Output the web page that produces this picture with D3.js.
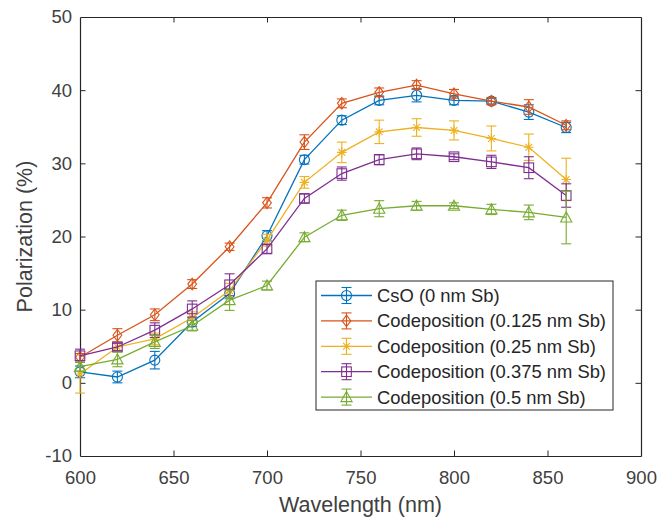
<!DOCTYPE html>
<html>
<head>
<meta charset="utf-8">
<script src="https://cdn.jsdelivr.net/npm/d3@7"></script>
<style>
  html, body { margin: 0; padding: 0; background: #fff; }
  svg { display: block; font-family: "Liberation Sans", Arial, Helvetica, sans-serif; }
</style>
</head>
<body>
<svg id="chart" width="659" height="521"></svg>
<script>
// Wavelengths (nm)
const wavelengths = [600, 620, 640, 660, 680, 700, 720, 740, 760, 780, 800, 820, 840, 860];

// Polarization (%) per sample, with error bar half-widths
const cso      = [1.5, 0.8, 3.1, 8.3, 12.2, 20.1, 30.5, 35.9, 38.6, 39.3, 38.6, 38.5, 37.0, 34.9];
const csoErr   = [0.8, 0.8, 1.2, 0.6, 0.7, 0.7, 0.6, 0.6, 0.6, 0.9, 0.6, 0.4, 1.0, 0.7];
const co0125   = [3.5, 6.5, 9.3, 13.5, 18.6, 24.6, 32.9, 38.2, 39.7, 40.7, 39.5, 38.5, 37.7, 35.2];
const co0125Err= [0.5, 0.9, 0.8, 0.6, 0.5, 0.7, 1.0, 0.6, 0.6, 0.6, 0.6, 0.5, 1.0, 0.6];
const co025    = [1.2, 4.9, 6.0, 8.9, 12.6, 19.5, 27.4, 31.5, 34.3, 34.9, 34.5, 33.4, 32.2, 27.8];
const co025Err = [2.6, 0.6, 0.8, 0.8, 1.0, 0.8, 0.8, 1.4, 1.6, 1.2, 1.3, 1.7, 1.8, 2.9];
const co0375   = [3.7, 4.9, 7.2, 10.1, 13.4, 18.3, 25.2, 28.6, 30.5, 31.3, 30.9, 30.2, 29.4, 25.6];
const co0375Err= [0.9, 0.5, 1.0, 1.1, 1.5, 0.6, 0.6, 0.9, 0.7, 0.8, 0.4, 0.9, 1.5, 1.6];
const co05     = [2.2, 3.2, 5.6, 7.8, 11.3, 13.3, 19.9, 22.9, 23.8, 24.2, 24.2, 23.7, 23.3, 22.6];
const co05Err  = [0.6, 1.0, 0.9, 0.7, 1.4, 0.6, 0.6, 0.7, 1.1, 0.6, 0.4, 0.7, 1.0, 3.6];

const seriesNames = [
  "CsO (0 nm Sb)",
  "Codeposition (0.125 nm Sb)",
  "Codeposition (0.25 nm Sb)",
  "Codeposition (0.375 nm Sb)",
  "Codeposition (0.5 nm Sb)"
];
const seriesColors = ["#0072BD", "#D95319", "#EDB120", "#7E2F8E", "#77AC30"];
const seriesMarkers = ["circle", "diamond", "asterisk", "square", "triangle"];

const xTicks = [600, 650, 700, 750, 800, 850, 900];
const yTicks = [-10, 0, 10, 20, 30, 40, 50];

const series = [
  { vals: cso, errs: csoErr },
  { vals: co0125, errs: co0125Err },
  { vals: co025, errs: co025Err },
  { vals: co0375, errs: co0375Err },
  { vals: co05, errs: co05Err }
].map((s, i) => ({ ...s, name: seriesNames[i], color: seriesColors[i], marker: seriesMarkers[i] }));

const svg = d3.select("#chart");
const plot = { left: 80, right: 641, top: 17, bottom: 456 };

const x = d3.scaleLinear().domain([600, 900]).range([plot.left, plot.right]);
const y = d3.scaleLinear().domain([-10, 50]).range([plot.bottom, plot.top]);

const axisColor = "#262626";
const tickLen = 5.5;
const plainFmt = d => String(d);

// Axes with inward ticks on all four sides (boxed frame)
const gx = svg.append("g").attr("transform", `translate(0,${plot.bottom})`)
  .call(d3.axisBottom(x).tickValues(xTicks).tickFormat(plainFmt).tickSizeInner(-tickLen).tickSizeOuter(0).tickPadding(15));
const gxTop = svg.append("g").attr("transform", `translate(0,${plot.top})`)
  .call(d3.axisTop(x).tickValues(xTicks).tickSizeInner(-tickLen).tickSizeOuter(0).tickFormat(""));
const gy = svg.append("g").attr("transform", `translate(${plot.left},0)`)
  .call(d3.axisLeft(y).tickValues(yTicks).tickFormat(plainFmt).tickSizeInner(-tickLen).tickSizeOuter(0).tickPadding(8));
const gyRight = svg.append("g").attr("transform", `translate(${plot.right},0)`)
  .call(d3.axisRight(y).tickValues(yTicks).tickSizeInner(-tickLen).tickSizeOuter(0).tickFormat(""));

[gx, gxTop, gy, gyRight].forEach(g => {
  g.select(".domain").attr("stroke", axisColor).attr("stroke-width", 1.2);
  g.selectAll(".tick line").attr("stroke", axisColor).attr("stroke-width", 1);
  g.selectAll(".tick text").attr("fill", "#404040").style("font-size", "18.5px")
    .style("font-family", '"Liberation Sans", Arial, sans-serif');
});
// Hide ticks that coincide with the frame corners
gx.selectAll(".tick").filter(d => d === 600 || d === 900).select("line").remove();
gxTop.selectAll(".tick").filter(d => d === 600 || d === 900).select("line").remove();
gy.selectAll(".tick").filter(d => d === -10 || d === 50).select("line").remove();
gyRight.selectAll(".tick").filter(d => d === -10 || d === 50).select("line").remove();

// Axis titles
svg.append("text")
  .attr("x", (plot.left + plot.right) / 2).attr("y", 512)
  .attr("text-anchor", "middle").attr("fill", "#404040")
  .style("font-size", "21.5px").text("Wavelength (nm)");
svg.append("text")
  .attr("transform", `translate(32,${(plot.top + plot.bottom) / 2}) rotate(-90)`)
  .attr("text-anchor", "middle").attr("fill", "#404040")
  .style("font-size", "21.5px").text("Polarization (%)");

// Marker drawing helper
function drawMarker(g, type, cx, cy, color) {
  const r = 4.8;
  if (type === "circle") {
    g.append("circle").attr("cx", cx).attr("cy", cy).attr("r", r + 0.2)
      .attr("fill", "none").attr("stroke", color).attr("stroke-width", 1.1);
  } else if (type === "diamond") {
    const d = r + 1;
    g.append("path").attr("d", `M${cx},${cy - d}L${cx + d * 0.75},${cy}L${cx},${cy + d}L${cx - d * 0.75},${cy}Z`)
      .attr("fill", "none").attr("stroke", color).attr("stroke-width", 1.1);
  } else if (type === "square") {
    g.append("rect").attr("x", cx - r).attr("y", cy - r).attr("width", 2 * r).attr("height", 2 * r)
      .attr("fill", "none").attr("stroke", color).attr("stroke-width", 1.1);
  } else if (type === "triangle") {
    const t = r + 0.8;
    g.append("path").attr("d", `M${cx},${cy - t}L${cx + t},${cy + t * 0.8}L${cx - t},${cy + t * 0.8}Z`)
      .attr("fill", "none").attr("stroke", color).attr("stroke-width", 1.1);
  } else if (type === "asterisk") {
    const a = r;
    const p = [
      `M${cx - a},${cy}L${cx + a},${cy}`,
      `M${cx},${cy - a}L${cx},${cy + a}`,
      `M${cx - a * 0.7},${cy - a * 0.7}L${cx + a * 0.7},${cy + a * 0.7}`,
      `M${cx - a * 0.7},${cy + a * 0.7}L${cx + a * 0.7},${cy - a * 0.7}`
    ].join("");
    g.append("path").attr("d", p).attr("fill", "none").attr("stroke", color).attr("stroke-width", 1.1);
  }
}

function drawErrorBar(g, cx, yTop, yBot, color) {
  const cap = 5;
  g.append("line").attr("x1", cx).attr("x2", cx).attr("y1", yTop).attr("y2", yBot)
    .attr("stroke", color).attr("stroke-width", 1.1);
  g.append("line").attr("x1", cx - cap).attr("x2", cx + cap).attr("y1", yTop).attr("y2", yTop)
    .attr("stroke", color).attr("stroke-width", 1.1);
  g.append("line").attr("x1", cx - cap).attr("x2", cx + cap).attr("y1", yBot).attr("y2", yBot)
    .attr("stroke", color).attr("stroke-width", 1.1);
}

const line = d3.line().x(d => x(d[0])).y(d => y(d[1]));

const plotG = svg.append("g");
series.forEach(s => {
  const g = plotG.append("g");
  const pts = wavelengths.map((w, i) => [w, s.vals[i], s.errs[i]]);
  g.append("path").datum(pts).attr("d", line)
    .attr("fill", "none").attr("stroke", s.color).attr("stroke-width", 1.3);
  pts.forEach(p => {
    drawErrorBar(g, x(p[0]), y(p[1] + p[2]), y(p[1] - p[2]), s.color);
    drawMarker(g, s.marker, x(p[0]), y(p[1]), s.color);
  });
});

// Legend
const legend = { left: 316, top: 281, width: 297, height: 129, rowH: 25.4, firstRow: 295.5 };
const lg = svg.append("g");
lg.append("rect").attr("x", legend.left).attr("y", legend.top)
  .attr("width", legend.width).attr("height", legend.height)
  .attr("fill", "#fff").attr("stroke", axisColor).attr("stroke-width", 1);
series.forEach((s, i) => {
  const cy = legend.firstRow + i * legend.rowH;
  const g = lg.append("g");
  g.append("line").attr("x1", 321).attr("x2", 372).attr("y1", cy).attr("y2", cy)
    .attr("stroke", s.color).attr("stroke-width", 1.3);
  drawErrorBar(g, 346.5, cy - 8, cy + 8, s.color);
  drawMarker(g, s.marker, 346.5, cy, s.color);
  g.append("text").attr("x", 377).attr("y", cy).attr("dy", "0.35em")
    .attr("fill", "#262626").style("font-size", "18.4px").text(s.name);
});
</script>
</body>
</html>
